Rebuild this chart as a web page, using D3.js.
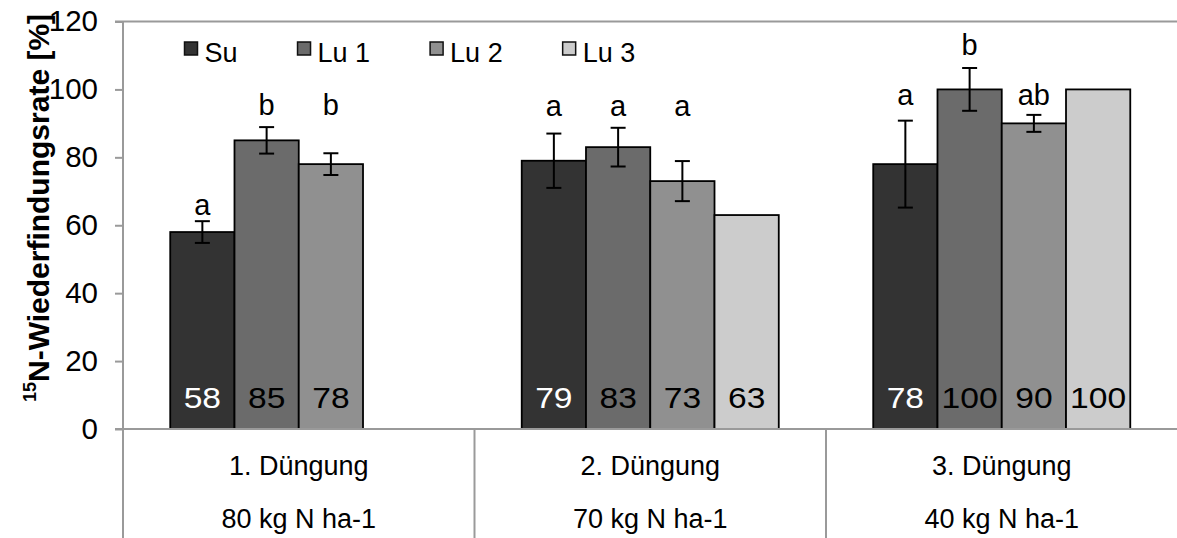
<!DOCTYPE html>
<html>
<head>
<meta charset="utf-8">
<script src="https://cdn.jsdelivr.net/npm/d3@7/dist/d3.min.js"></script>
<style>
  html, body { margin: 0; padding: 0; background: #fff; }
  svg { display: block; font-family: "Liberation Sans", Arial, sans-serif; }
</style>
</head>
<body>
<svg id="chart" width="1177" height="538"></svg>
<script>
// Recovery rates per fertilisation event and soil
const groups = ["1. Düngung", "2. Düngung", "3. Düngung"];
const groupRates = ["80 kg N ha-1", "70 kg N ha-1", "40 kg N ha-1"];
const series = ["Su", "Lu 1", "Lu 2", "Lu 3"];

const valuesSu  = [58, 79, 78];
const valuesLu1 = [85, 83, 100];
const valuesLu2 = [78, 73, 90];
const valuesLu3 = [null, 63, 100];

// standard deviations (error bar half-lengths)
const errSu  = [3.2, 8.0, 12.8];
const errLu1 = [3.9, 5.7, 6.3];
const errLu2 = [3.2, 5.9, 2.5];
const errLu3 = [null, null, null];

// significance letters and the axis value they sit at
const lettersSu  = ["a", "a", "a"];
const lettersLu1 = ["b", "a", "b"];
const lettersLu2 = ["b", "a", "ab"];
const lettersLu3 = [null, null, null];
const letterAtSu  = [63, 92.2, 95.4];
const letterAtLu1 = [92.5, 92.2, 110];
const letterAtLu2 = [92.5, 92.2, 95.4];
const letterAtLu3 = [null, null, null];

const yTicks = [0, 20, 40, 60, 80, 100, 120];

const colors = ["#333333", "#6b6b6b", "#909090", "#cccccc"];
const labelColors = ["#ffffff", "#000000", "#000000", "#000000"];

const values = [valuesSu, valuesLu1, valuesLu2, valuesLu3];
const errors = [errSu, errLu1, errLu2, errLu3];
const letters = [lettersSu, lettersLu1, lettersLu2, lettersLu3];
const letterAt = [letterAtSu, letterAtLu1, letterAtLu2, letterAtLu3];

const rows = [];
groups.forEach((g, gi) => {
  series.forEach((s, si) => {
    if (values[si][gi] == null) return;
    rows.push({
      group: g, series: s, si,
      value: values[si][gi],
      err: errors[si][gi],
      letter: letters[si][gi],
      letterAt: letterAt[si][gi]
    });
  });
});

const svg = d3.select("#chart");
const axisColor = "#9a9a9a";
const tickFont = 29.5, valueFont = 30, letterFont = 29, catFont = 27, legendFont = 27;

const plotLeft = 123, plotRight = 1177.5, plotTop = 21.5, plotBottom = 429;

const y = d3.scaleLinear().domain([0, 120]).range([plotBottom, plotTop]);
const x0 = d3.scaleBand().domain(groups).range([plotLeft, plotRight]).padding(0);
const x1 = d3.scaleBand().domain(series).range([0, x0.bandwidth()])
  .paddingInner(0).paddingOuter(0.735);

// top border line at 120
svg.append("line")
  .attr("x1", 115).attr("x2", 1177)
  .attr("y1", y(120)).attr("y2", y(120))
  .attr("stroke", axisColor).attr("stroke-width", 2);

// y axis
const yAxis = svg.append("g")
  .attr("transform", `translate(${plotLeft},0)`)
  .call(d3.axisLeft(y).tickValues(yTicks).tickSize(8).tickPadding(17).tickFormat(d3.format("d")));
yAxis.select(".domain").remove();
yAxis.selectAll(".tick line").attr("stroke", axisColor).attr("stroke-width", 2);
yAxis.selectAll(".tick text")
  .attr("fill", "#000").style("font-size", tickFont + "px")
  .style("font-family", "'Liberation Sans', Arial, sans-serif");

// vertical axis line runs down through the category area
svg.append("line")
  .attr("x1", plotLeft).attr("x2", plotLeft)
  .attr("y1", plotTop).attr("y2", 538)
  .attr("stroke", axisColor).attr("stroke-width", 2);

// bars
const bars = svg.append("g");
bars.selectAll("rect").data(rows).join("rect")
  .attr("x", d => x0(d.group) + x1(d.series))
  .attr("width", x1.bandwidth())
  .attr("y", d => y(d.value))
  .attr("height", d => y(0) - y(d.value))
  .attr("fill", d => colors[d.si])
  .attr("stroke", "#000").attr("stroke-width", 1.8);

// data labels at bar base, set slightly wide
svg.append("g").selectAll("text").data(rows).join("text")
  .attr("transform", d =>
    `translate(${x0(d.group) + x1(d.series) + x1.bandwidth() / 2},${y(0) - 21.5}) scale(1.12,1)`)
  .attr("text-anchor", "middle")
  .attr("fill", d => labelColors[d.si])
  .style("font-size", valueFont + "px")
  .text(d => d3.format("d")(d.value));

// error bars
const eb = svg.append("g").attr("stroke", "#000").attr("stroke-width", 2);
rows.filter(d => d.err != null).forEach(d => {
  const cx = x0(d.group) + x1(d.series) + x1.bandwidth() / 2;
  const yt = y(d.value + d.err), yb = y(d.value - d.err);
  eb.append("line").attr("x1", cx).attr("x2", cx).attr("y1", yt).attr("y2", yb);
  eb.append("line").attr("x1", cx - 7.5).attr("x2", cx + 7.5).attr("y1", yt).attr("y2", yt);
  eb.append("line").attr("x1", cx - 7.5).attr("x2", cx + 7.5).attr("y1", yb).attr("y2", yb);
});

// significance letters
svg.append("g").selectAll("text").data(rows.filter(d => d.letter)).join("text")
  .attr("x", d => x0(d.group) + x1(d.series) + x1.bandwidth() / 2)
  .attr("y", d => y(d.letterAt))
  .attr("text-anchor", "middle")
  .style("font-size", letterFont + "px")
  .text(d => d.letter);

// x axis line
svg.append("line")
  .attr("x1", 115).attr("x2", 1177)
  .attr("y1", y(0)).attr("y2", y(0))
  .attr("stroke", axisColor).attr("stroke-width", 2);

// category dividers
groups.slice(1).forEach(g => {
  svg.append("line")
    .attr("x1", x0(g)).attr("x2", x0(g))
    .attr("y1", y(0)).attr("y2", 538)
    .attr("stroke", axisColor).attr("stroke-width", 2);
});

// two-level category labels
const cat = svg.append("g").style("font-size", catFont + "px").attr("text-anchor", "middle");
groups.forEach((g, i) => {
  const cx = x0(g) + x0.bandwidth() / 2;
  cat.append("text").attr("x", cx).attr("y", 475).text(g);
  cat.append("text").attr("x", cx).attr("y", 528).text(groupRates[i]);
});

// legend
const legend = svg.append("g").style("font-size", legendFont + "px");
let lx = 184.5;
series.forEach((s, i) => {
  legend.append("rect")
    .attr("x", lx).attr("y", 42).attr("width", 13).attr("height", 13)
    .attr("fill", colors[i]).attr("stroke", "#111").attr("stroke-width", 1.5);
  const t = legend.append("text").attr("x", lx + 20).attr("y", 61.5).text(s);
  lx += 20 + t.node().getComputedTextLength() + 60;
});

// y axis title with superscript mass number
const title = svg.append("text")
  .attr("transform", "translate(44,208) rotate(-90)")
  .attr("text-anchor", "middle")
  .style("font-size", "30px").style("font-weight", "bold");
title.append("tspan").attr("dy", "-0.42em").style("font-size", "18px").text("15");
title.append("tspan").attr("dy", "0.42em").text("N-Wiederfindungsrate [%]");
</script>
</body>
</html>
